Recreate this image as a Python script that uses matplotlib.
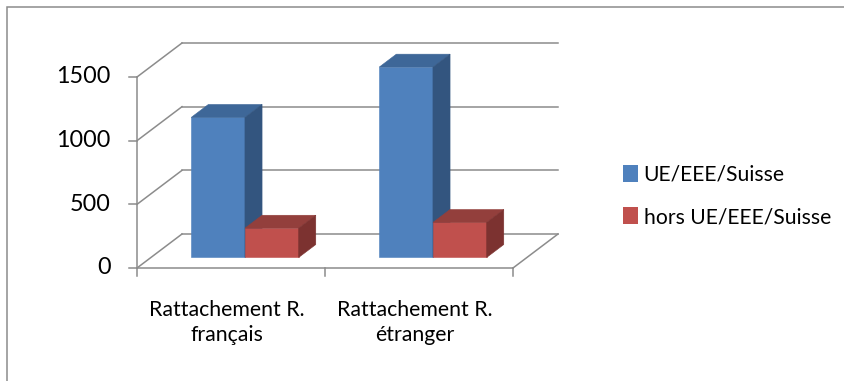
import matplotlib.pyplot as plt
from matplotlib.patches import Polygon, Patch, Rectangle

categories = ["Rattachement R.\nfrançais", "Rattachement R.\nétranger"]
series_names = ["UE/EEE/Suisse", "hors UE/EEE/Suisse"]
ue_eee_suisse = [1100, 1495]
hors_ue_eee_suisse = [230, 275]
y_ticks = [0, 500, 1000, 1500]

values = [ue_eee_suisse, hors_ue_eee_suisse]
front_colors = ["#4F81BD", "#C0504D"]
top_colors = ["#3E6798", "#933F3C"]
side_colors = ["#33557F", "#7C3230"]
grid_color = "#8C8C8C"

plt.rcParams["font.family"] = ["Lato", "DejaVu Sans"]

# oblique "3D" look: depth shifts points right and up
DX, DY = 0.2394, 267.0
Y_MAX = y_ticks[-1]
n_cat = len(categories)


def proj(x, y, d):
    return (x + d * DX, y + d * DY)


fig = plt.figure(figsize=(8.45, 3.81), dpi=100)
W, H = 845, 381
ax = fig.add_axes([137 / W, (H - 268) / H, (558 - 137) / W, (268 - 43) / H])
ax.set_xlim(0, n_cat + DX)
ax.set_ylim(0, Y_MAX + DY)
ax.axis("off")

line_kw = dict(color=grid_color, lw=1.1, clip_on=False, zorder=1)

# back wall gridlines + left wall diagonals
for v in y_ticks:
    bx, by = proj(0, v, 1)
    ax.plot([0, bx], [v, by], **line_kw)
    ax.plot([bx, n_cat + DX], [by, by], **line_kw)
# floor
ax.plot([0, n_cat], [0, 0], **line_kw)
ax.plot([n_cat, n_cat + DX], [0, DY], **line_kw)
# front value axis with ticks
ax.plot([0, 0], [0, Y_MAX], **line_kw)
for v in y_ticks:
    ax.plot([-0.045, 0], [v, v], **line_kw)
    ax.text(-0.14, v, str(v), ha="right", va="center", fontsize=16.8, color="black")
# category ticks and labels
for c in range(n_cat + 1):
    ax.plot([c, c], [0, -63], **line_kw)
for c, label in enumerate(categories):
    ax.text(c + 0.48, -428, label, ha="center", va="center", fontsize=15.3,
            linespacing=1.35, color="black")

# bars
gap = 1.5
w = 1 / (len(values) + gap)
d0, d1 = 0.31, 0.69
for c in range(n_cat):
    for i, vals in enumerate(values):
        v = vals[c]
        x0 = c + gap * w / 2 + i * w
        x1 = x0 + w
        front = [proj(x0, 0, d0), proj(x1, 0, d0), proj(x1, v, d0), proj(x0, v, d0)]
        top = [proj(x0, v, d0), proj(x1, v, d0), proj(x1, v, d1), proj(x0, v, d1)]
        side = [proj(x1, 0, d0), proj(x1, 0, d1), proj(x1, v, d1), proj(x1, v, d0)]
        z = 3 + c * 3 + i
        for pts, col in ((front, front_colors[i]), (top, top_colors[i]), (side, side_colors[i])):
            ax.add_patch(Polygon(pts, closed=True, facecolor=col, edgecolor=col,
                                 lw=0.4, zorder=z))

handles = [Patch(facecolor=front_colors[i], edgecolor="none", label=series_names[i])
           for i in range(len(series_names))]
fig.legend(handles=handles, loc="center left", bbox_to_anchor=(612 / W, 1 - 196 / H),
           frameon=False, fontsize=15.2, handlelength=0.75, handleheight=0.85,
           handletextpad=0.25, labelspacing=1.05, borderpad=0)

# chart area border (cropped on the right and bottom)
fig.add_artist(Rectangle((7 / W, -0.1), 1.2, (H - 7) / H + 0.1, transform=fig.transFigure,
                         fill=False, edgecolor="#8C8C8C", lw=1.1))

fig.savefig("out.png", dpi=100)
